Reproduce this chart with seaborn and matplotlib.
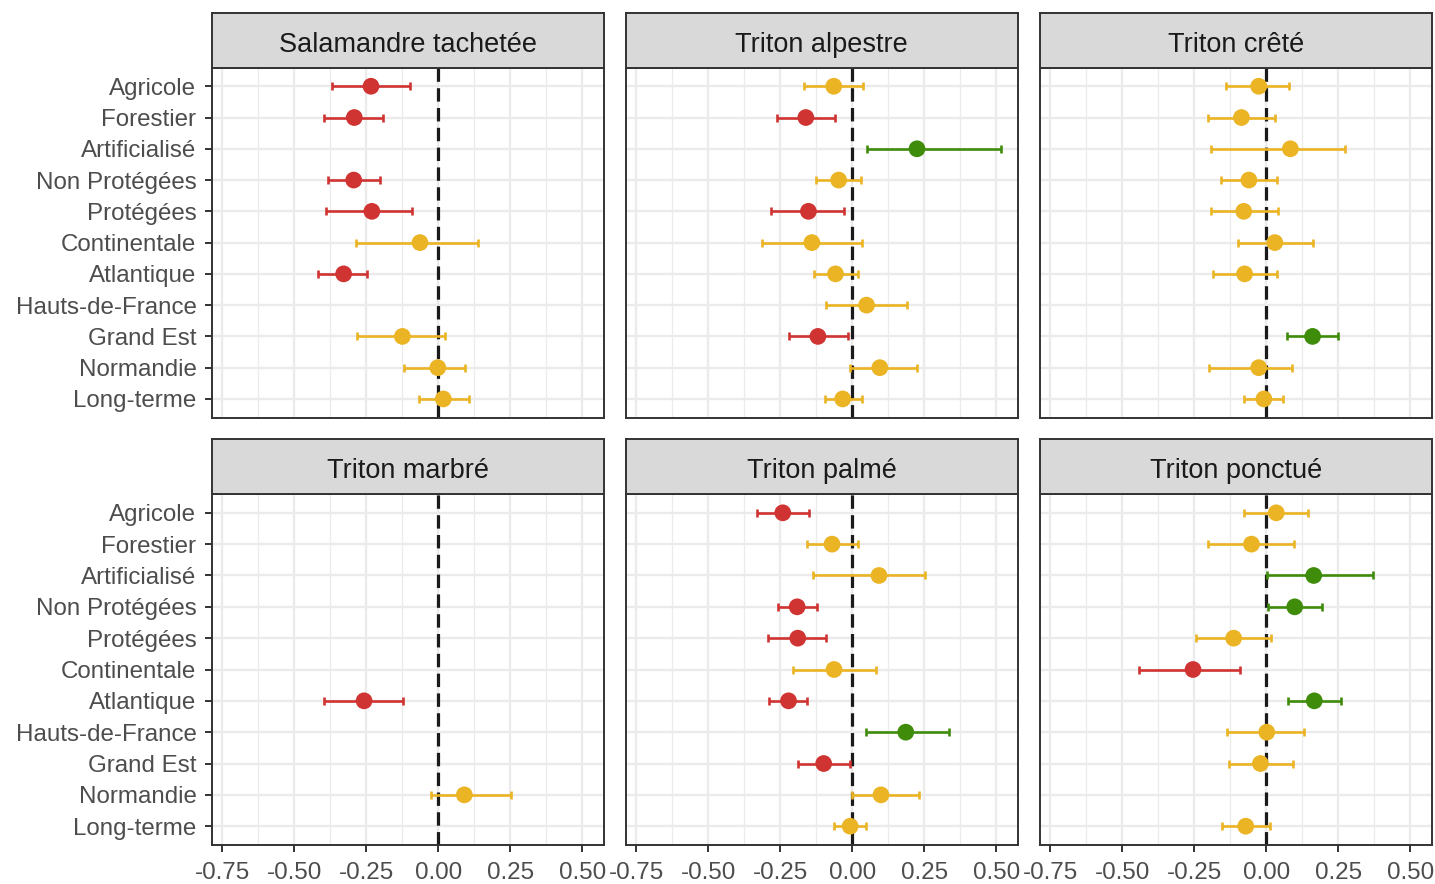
import numpy as np
import pandas as pd
import matplotlib
matplotlib.use("Agg")
import matplotlib.pyplot as plt
from matplotlib.ticker import FixedLocator
import seaborn as sns

sns.set_theme(style="white")
plt.rcParams["font.family"] = ["Liberation Sans", "DejaVu Sans"]

# ---------------------------------------------------------------- data
categories = ["Agricole", "Forestier", "Artificialisé", "Non Protégées", "Protégées",
              "Continentale", "Atlantique", "Hauts-de-France", "Grand Est",
              "Normandie", "Long-terme"]

species = ["Salamandre tachetée", "Triton alpestre", "Triton crêté",
           "Triton marbré", "Triton palmé", "Triton ponctué"]

nan = np.nan

# estimates, lower and upper bounds (one value per category; nan = not estimated)
salamandre_est = [-0.234, -0.292, nan, -0.294, -0.231, -0.064, -0.329, nan, -0.125, -0.002, 0.017]
salamandre_lo = [-0.370, -0.396, nan, -0.382, -0.389, -0.287, -0.417, nan, -0.282, -0.118, -0.067]
salamandre_hi = [-0.098, -0.191, nan, -0.203, -0.090, 0.137, -0.247, nan, 0.023, 0.093, 0.105]

alpestre_est = [-0.064, -0.161, 0.225, -0.047, -0.152, -0.140, -0.058, 0.050, -0.119, 0.096, -0.033]
alpestre_lo = [-0.169, -0.261, 0.050, -0.126, -0.283, -0.314, -0.134, -0.090, -0.219, -0.008, -0.096]
alpestre_hi = [0.038, -0.061, 0.515, 0.030, -0.028, 0.033, 0.021, 0.190, -0.015, 0.224, 0.035]

crete_est = [-0.026, -0.086, 0.084, -0.060, -0.078, 0.030, -0.075, nan, 0.161, -0.026, -0.008]
crete_lo = [-0.139, -0.202, -0.193, -0.157, -0.193, -0.099, -0.183, nan, 0.071, -0.197, -0.078]
crete_hi = [0.079, 0.032, 0.273, 0.038, 0.042, 0.162, 0.037, nan, 0.249, 0.089, 0.060]

marbre_est = [nan, nan, nan, nan, nan, nan, -0.258, nan, nan, 0.090, nan]
marbre_lo = [nan, nan, nan, nan, nan, nan, -0.397, nan, nan, -0.025, nan]
marbre_hi = [nan, nan, nan, nan, nan, nan, -0.123, nan, nan, 0.251, nan]

palme_est = [-0.241, -0.070, 0.093, -0.191, -0.189, -0.063, -0.221, 0.186, -0.099, 0.100, -0.007]
palme_lo = [-0.332, -0.157, -0.135, -0.256, -0.291, -0.207, -0.288, 0.049, -0.189, -0.002, -0.062]
palme_hi = [-0.149, 0.020, 0.254, -0.121, -0.090, 0.083, -0.157, 0.336, -0.006, 0.233, 0.047]

ponctue_est = [0.035, -0.051, 0.165, 0.099, -0.113, -0.254, 0.167, 0.002, -0.020, nan, -0.071]
ponctue_lo = [-0.077, -0.202, 0.003, 0.006, -0.244, -0.443, 0.077, -0.135, -0.130, nan, -0.152]
ponctue_hi = [0.145, 0.096, 0.372, 0.195, 0.017, -0.090, 0.261, 0.131, 0.092, nan, 0.012]

x_ticks = [-0.75, -0.50, -0.25, 0.00, 0.25, 0.50]
x_tick_labels = ["-0.75", "-0.50", "-0.25", "0.00", "0.25", "0.50"]

# ---------------------------------------------------------------- long table
series = {
    "Salamandre tachetée": (salamandre_est, salamandre_lo, salamandre_hi),
    "Triton alpestre": (alpestre_est, alpestre_lo, alpestre_hi),
    "Triton crêté": (crete_est, crete_lo, crete_hi),
    "Triton marbré": (marbre_est, marbre_lo, marbre_hi),
    "Triton palmé": (palme_est, palme_lo, palme_hi),
    "Triton ponctué": (ponctue_est, ponctue_lo, ponctue_hi),
}
rows = []
for sp, (est, lo, hi) in series.items():
    for i, cat in enumerate(categories):
        if np.isnan(est[i]):
            continue
        if hi[i] < 0:
            eff = "négatif"
        elif lo[i] > 0:
            eff = "positif"
        else:
            eff = "non significatif"
        rows.append(dict(espece=sp, categorie=cat, pos=i, est=est[i],
                         lo=lo[i], hi=hi[i], effet=eff))
df = pd.DataFrame(rows)

palette = {"négatif": "#D03432", "non significatif": "#EBB424", "positif": "#3F8C0A"}

# ---------------------------------------------------------------- layout
W, H = 1435, 884
fig = plt.figure(figsize=(W / 100, H / 100), dpi=100)

col_left = [211.7, 625.5, 1039.5]
panel_w = 392.6
rows_px = [(13.3, 67.5, 417.7), (439.3, 494.0, 845.0)]  # strip top, body top, body bottom

text_col = "#4D4D4D"
border = "#333333"
grid_col = "#EBEBEB"

for k, sp in enumerate(species):
    r, c = divmod(k, 3)
    s_top, b_top, b_bot = rows_px[r]
    left = col_left[c] / W

    ax = fig.add_axes([left, 1 - b_bot / H, panel_w / W, (b_bot - b_top) / H])
    strip = fig.add_axes([left, 1 - b_top / H, panel_w / W, (b_top - s_top) / H])

    # strip
    strip.set_facecolor("#D9D9D9")
    strip.set_xticks([])
    strip.set_yticks([])
    for s in strip.spines.values():
        s.set_color(border)
        s.set_linewidth(1.4)
    strip.text(0.5, 0.47, sp, ha="center", va="center_baseline", fontsize=19.5,
               color="#1A1A1A", transform=strip.transAxes)

    # panel body
    ax.set_facecolor("white")
    ax.set_xlim(-0.787, 0.576)
    ax.set_ylim(len(categories) - 1 + 0.6, -0.6)
    ax.xaxis.set_major_locator(FixedLocator(x_ticks))
    ax.xaxis.set_minor_locator(FixedLocator([-0.875, -0.625, -0.375, -0.125, 0.125, 0.375, 0.625]))
    ax.set_yticks(range(len(categories)))
    ax.grid(True, which="major", axis="both", color=grid_col, linewidth=1.7, zorder=0)
    ax.grid(True, which="minor", axis="x", color=grid_col, linewidth=0.9, zorder=0)
    ax.set_axisbelow(True)
    for s in ax.spines.values():
        s.set_color(border)
        s.set_linewidth(1.4)
        s.set_zorder(5)

    ax.axvline(0, color="#1A1A1A", linewidth=2.3, dashes=(4.2, 2.0), zorder=1)

    sub = df[df["espece"] == sp]
    for eff, g in sub.groupby("effet"):
        ax.errorbar(g["est"], g["pos"],
                    xerr=[g["est"] - g["lo"], g["hi"] - g["est"]],
                    fmt="none", ecolor=palette[eff], elinewidth=1.9,
                    capsize=2.6, capthick=1.9, zorder=2)
    sns.scatterplot(data=sub, x="est", y="pos", hue="effet", palette=palette,
                    s=145, linewidth=0, legend=False, ax=ax, zorder=3)

    ax.set_xlabel("")
    ax.set_ylabel("")
    ax.tick_params(axis="both", which="major", length=5, width=1.4,
                   color=border, labelcolor=text_col, labelsize=17.4, pad=6)
    ax.tick_params(axis="x", which="major", pad=7)
    ax.tick_params(axis="both", which="minor", length=0)

    if c == 0:
        ax.set_yticklabels(categories)
        ax.tick_params(axis="y", left=True)
    else:
        ax.set_yticklabels([])
        ax.tick_params(axis="y", left=False)
    if r == 1:
        ax.set_xticklabels(x_tick_labels)
        ax.tick_params(axis="x", bottom=True)
    else:
        ax.set_xticklabels([])
        ax.tick_params(axis="x", bottom=False)

fig.savefig("out.png", dpi=100, facecolor="white")
